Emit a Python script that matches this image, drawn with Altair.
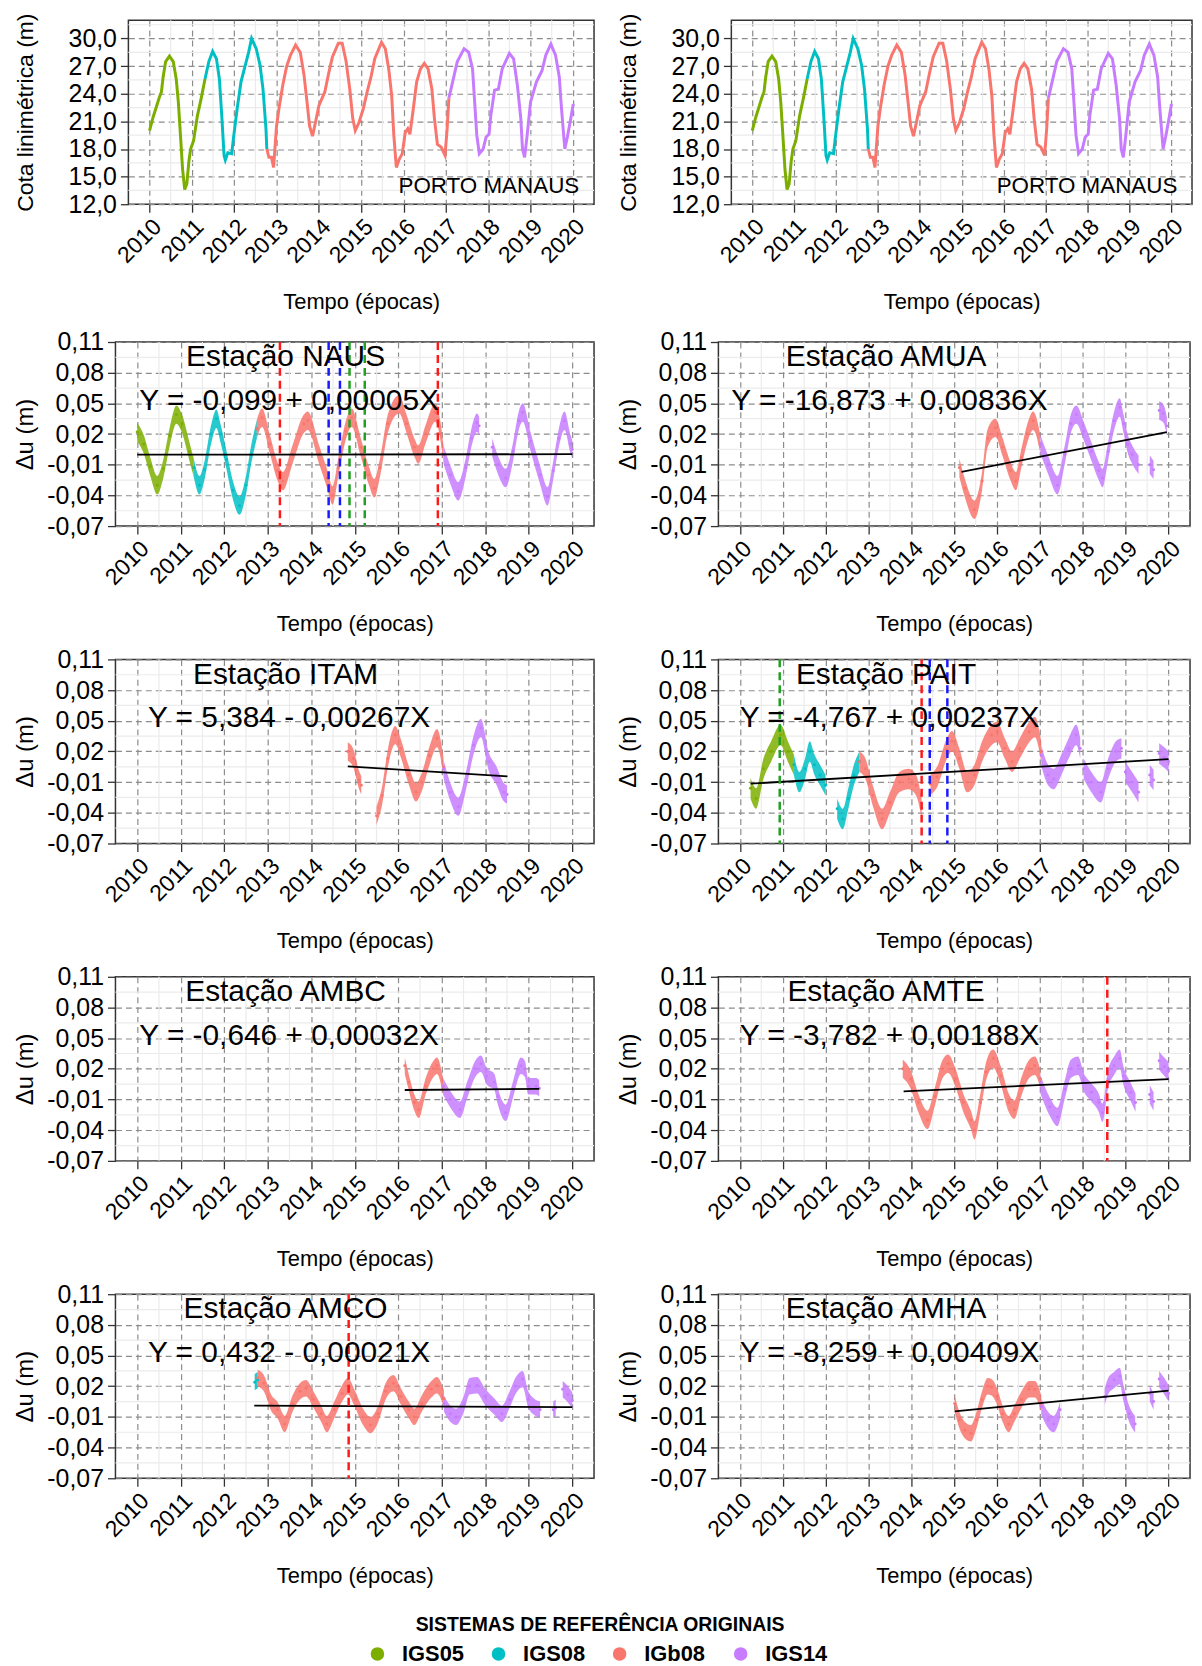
import altair as alt
import pandas as pd

FONT = "Liberation Sans"
SYSTEMS = ["IGS05", "IGS08", "IGb08", "IGS14"]
COLORS = ["#7CAE00", "#00BFC4", "#F8766D", "#C77CFF"]
SYS_COLOR = dict(zip(SYSTEMS, COLORS))
LEGEND_TITLE = "SISTEMAS DE REFERÊNCIA ORIGINAIS"

YEAR_TICKS = [2010, 2011, 2012, 2013, 2014, 2015, 2016, 2017, 2018, 2019, 2020]
YEAR_MINOR = [2010.5, 2011.5, 2012.5, 2013.5, 2014.5, 2015.5, 2016.5, 2017.5, 2018.5, 2019.5]
DU_TICKS = [-0.07, -0.04, -0.01, 0.02, 0.05, 0.08, 0.11]
DU_MINOR = [-0.055, -0.025, 0.005, 0.035, 0.065, 0.095]
LEVEL_TICKS = [12, 15, 18, 21, 24, 27, 30]
LEVEL_MINOR = [13.5, 16.5, 19.5, 22.5, 25.5, 28.5, 31.5]

# ---------------- water level (Porto Manaus) ----------------
LEVEL = [
    ("IGS05",
     [2010.0, 2010.08, 2010.23, 2010.28, 2010.32, 2010.38, 2010.47, 2010.56, 2010.63, 2010.68,
      2010.73, 2010.78, 2010.83, 2010.88, 2010.93, 2010.97, 2011.04, 2011.13, 2011.22, 2011.31],
     [20.0, 21.4, 23.6, 24.2, 25.8, 27.5, 28.1, 27.5, 25.6, 23.1,
      19.5, 15.8, 13.6, 14.2, 16.7, 18.0, 18.9, 21.6, 23.5, 25.6]),
    ("IGS08",
     [2011.31, 2011.4, 2011.49, 2011.58, 2011.65, 2011.71, 2011.76, 2011.79, 2011.85, 2011.94,
      2011.98, 2012.07, 2012.16, 2012.25, 2012.34, 2012.41, 2012.52, 2012.61, 2012.68, 2012.75, 2012.77],
     [25.6, 27.5, 28.6, 27.8, 25.6, 21.3, 17.3, 16.8, 17.6, 17.5,
      19.1, 22.4, 25.3, 26.9, 28.5, 30.0, 28.9, 27.1, 24.5, 20.2, 18.0]),
    ("IGb08",
     [2012.77, 2012.82, 2012.88, 2012.93, 2013.0, 2013.06, 2013.15, 2013.24, 2013.33, 2013.45,
      2013.56, 2013.65, 2013.72, 2013.78, 2013.85, 2013.92, 2014.0, 2014.14, 2014.23, 2014.32,
      2014.46, 2014.55, 2014.64, 2014.73, 2014.8, 2014.86, 2014.95, 2015.05, 2015.14, 2015.23,
      2015.32, 2015.48, 2015.57, 2015.65, 2015.72, 2015.77, 2015.83, 2015.9, 2015.97, 2016.04,
      2016.1, 2016.15, 2016.22, 2016.31, 2016.4, 2016.49, 2016.58, 2016.67, 2016.73, 2016.8,
      2016.89, 2016.98, 2017.03, 2017.07],
     [18.0, 17.1, 17.1, 16.0, 20.5, 22.5, 25.0, 27.0, 28.2, 29.3,
      28.5, 26.0, 23.1, 20.5, 19.4, 20.9, 22.7, 24.2, 26.2, 28.0,
      29.5, 29.5, 27.6, 24.5, 21.3, 20.0, 20.9, 22.4, 24.2, 25.8,
      27.8, 29.6, 28.9, 26.7, 23.8, 19.5, 16.0, 16.9, 17.5, 19.8,
      20.2, 19.6, 22.0, 25.3, 26.7, 27.3, 26.7, 24.5, 21.3, 18.5,
      18.2, 17.3, 20.2, 23.5]),
    ("IGS14",
     [2017.07, 2017.16, 2017.27, 2017.43, 2017.54, 2017.63, 2017.68, 2017.73, 2017.79, 2017.88,
      2017.95, 2018.02, 2018.06, 2018.15, 2018.24, 2018.33, 2018.5, 2018.6, 2018.69, 2018.77,
      2018.81, 2018.86, 2018.92, 2019.0, 2019.14, 2019.27, 2019.36, 2019.48, 2019.59, 2019.68,
      2019.72, 2019.77, 2019.81, 2019.87, 2019.95, 2020.01],
     [23.5, 25.3, 27.5, 28.9, 28.5, 26.7, 23.1, 19.5, 17.5, 18.0,
      19.3, 19.6, 21.6, 24.4, 24.5, 26.7, 28.4, 27.8, 24.9, 21.3,
      18.0, 17.1, 19.5, 23.1, 25.3, 26.5, 28.2, 29.4, 28.2, 25.8,
      23.1, 20.2, 18.0, 19.3, 21.3, 22.9]),
]

# ---------------- Delta-u stations (segment centres) ----------------
NAUS = [
    ("IGS05", [2010.0, 2010.15, 2010.3, 2010.46, 2010.6, 2010.75, 2010.9, 2011.03, 2011.2, 2011.3],
     [0.022, 0.01, -0.012, -0.030, -0.014, 0.018, 0.039, 0.03, 0.003, -0.013]),
    ("IGS08", [2011.3, 2011.43, 2011.55, 2011.7, 2011.82, 2011.92, 2012.05, 2012.2, 2012.35, 2012.5, 2012.62, 2012.75],
     [-0.013, -0.03, -0.015, 0.02, 0.035, 0.02, -0.005, -0.035, -0.05, -0.03, 0.0, 0.025]),
    ("IGb08", [2012.75, 2012.87, 2013.05, 2013.22, 2013.35, 2013.57, 2013.83, 2013.92, 2014.18, 2014.36,
               2014.49, 2014.62, 2014.79, 2014.93, 2015.14, 2015.32, 2015.45, 2015.58, 2015.76, 2016.02,
               2016.19, 2016.37, 2016.46, 2016.63, 2016.85, 2016.98, 2017.04],
     [0.025, 0.036, 0.01, -0.016, -0.026, 0.0, 0.03, 0.033, 0.0, -0.023,
      -0.04, -0.013, 0.023, 0.036, 0.007, -0.02, -0.033, -0.013, 0.03, 0.049,
      0.03, 0.007, 0.0, 0.02, 0.041, 0.02, 0.0]),
    ("IGS14", [2017.04, 2017.2, 2017.38, 2017.55, 2017.68, 2017.81, 2017.86],
     [0.0, -0.02, -0.036, -0.013, 0.016, 0.031, 0.028]),
    ("IGS14", [2018.16, 2018.29, 2018.47, 2018.64, 2018.77, 2018.86, 2019.04, 2019.26, 2019.43, 2019.56,
               2019.69, 2019.82, 2019.96, 2020.0],
     [0.007, -0.01, -0.023, 0.003, 0.033, 0.041, 0.013, -0.02, -0.041, -0.016,
      0.016, 0.033, 0.01, 0.005]),
]
NAUS_REG_T, NAUS_REG_U = [2010.0, 2020.0], [-0.0002, 0.0003]

AMUA = [
    ("IGb08", [2015.12, 2015.25, 2015.47, 2015.65, 2015.78, 2015.96, 2016.13, 2016.31, 2016.44, 2016.57, 2016.7, 2016.84, 2017.01],
     [-0.013, -0.033, -0.054, -0.026, 0.016, 0.026, 0.007, -0.016, -0.026, -0.003, 0.02, 0.033, 0.01]),
    ("IGS14", [2017.01, 2017.19, 2017.41, 2017.58, 2017.72, 2017.85, 2018.02, 2018.2, 2018.37, 2018.46,
               2018.59, 2018.73, 2018.86, 2018.95, 2019.05, 2019.15, 2019.3],
     [0.01, -0.01, -0.03, 0.0, 0.03, 0.039, 0.023, 0.003, -0.016, -0.023,
      0.003, 0.033, 0.046, 0.03, 0.01, 0.0, -0.01]),
    ("IGS14", [2019.56, 2019.65], [-0.01, -0.015]),
    ("IGS14", [2019.78, 2019.88, 2019.96], [0.043, 0.04, 0.028]),
]
AMUA_REG_T, AMUA_REG_U = [2015.17, 2019.96], [-0.017, 0.022]

ITAM = [
    ("IGb08", [2014.84, 2014.97, 2015.1, 2015.15], [0.02, 0.013, -0.008, -0.013]),
    ("IGb08", [2015.5, 2015.63, 2015.76, 2015.93, 2016.06, 2016.24, 2016.41, 2016.54, 2016.72, 2016.89, 2017.04],
     [-0.043, -0.023, 0.013, 0.036, 0.023, -0.003, -0.02, -0.01, 0.016, 0.033, 0.005]),
    ("IGS14", [2017.04, 2017.2, 2017.38, 2017.55, 2017.73, 2017.9, 2018.08, 2018.25, 2018.43, 2018.5],
     [0.003, -0.02, -0.034, -0.01, 0.026, 0.043, 0.01, -0.003, -0.02, -0.022]),
]
ITAM_REG_T, ITAM_REG_U = [2014.84, 2018.51], [0.0055, -0.0043]

PAIT = [
    ("IGS05", [2010.25, 2010.38, 2010.55, 2010.73, 2010.95, 2011.12, 2011.26],
     [-0.016, -0.026, 0.003, 0.02, 0.036, 0.02, 0.007]),
    ("IGS08", [2011.26, 2011.39, 2011.52, 2011.63, 2011.74, 2011.87, 2012.0],
     [0.007, -0.01, 0.003, 0.02, 0.007, -0.003, -0.013]),
    ("IGS08", [2012.27, 2012.4, 2012.53, 2012.66, 2012.79], [-0.036, -0.046, -0.026, -0.003, 0.01]),
    ("IGb08", [2012.79, 2012.93, 2013.1, 2013.32, 2013.5, 2013.72, 2013.94, 2014.11, 2014.24],
     [0.01, 0.003, -0.023, -0.046, -0.03, -0.01, -0.007, -0.013, -0.035]),
    ("IGb08", [2014.45, 2014.6, 2014.82, 2014.95, 2015.12, 2015.3, 2015.47, 2015.65, 2015.87, 2016.0,
               2016.18, 2016.35, 2016.53, 2016.75, 2016.88, 2017.03],
     [-0.012, -0.005, 0.022, 0.03, 0.013, -0.01, -0.003, 0.02, 0.036, 0.039,
      0.023, 0.01, 0.023, 0.039, 0.044, 0.02]),
    ("IGS14", [2017.03, 2017.19, 2017.32, 2017.5, 2017.67, 2017.85, 2017.94],
     [0.016, -0.003, -0.007, 0.007, 0.023, 0.036, 0.023]),
    ("IGS14", [2018.02, 2018.2, 2018.42, 2018.59, 2018.77, 2018.9], [0.003, -0.01, -0.02, 0.003, 0.02, 0.023]),
    ("IGS14", [2018.99, 2019.15, 2019.3], [0.0, -0.01, -0.02]),
    ("IGS14", [2019.56, 2019.65], [-0.003, -0.008]),
    ("IGS14", [2019.78, 2019.9, 2020.0], [0.018, 0.014, 0.01]),
]
PAIT_REG_T, PAIT_REG_U = [2010.25, 2020.0], [-0.0115, 0.0125]

AMBC = [
    ("IGb08", [2016.15, 2016.24, 2016.37, 2016.47, 2016.63, 2016.81, 2016.89, 2017.03],
     [0.023, 0.007, -0.013, -0.02, 0.003, 0.02, 0.023, 0.003]),
    ("IGS14", [2017.03, 2017.2, 2017.42, 2017.59, 2017.77, 2017.9, 2018.03, 2018.21, 2018.29, 2018.47,
               2018.64, 2018.82, 2018.91, 2018.99, 2019.17, 2019.24],
     [0.003, -0.01, -0.02, 0.0, 0.02, 0.025, 0.013, 0.007, -0.007, -0.023,
      0.0, 0.023, 0.02, 0.003, 0.003, 0.001]),
]
AMBC_REG_T, AMBC_REG_U = [2016.15, 2019.24], [-0.0007, 0.0004]

AMTE = [
    ("IGb08", [2013.8, 2013.98, 2014.16, 2014.38, 2014.55, 2014.73, 2014.86, 2015.04, 2015.21, 2015.39,
               2015.47, 2015.61, 2015.74, 2015.91, 2016.09, 2016.27, 2016.4, 2016.57, 2016.75, 2016.88, 2017.01],
     [0.02, 0.01, -0.013, -0.03, -0.007, 0.02, 0.025, 0.01, -0.013, -0.03,
      -0.04, -0.013, 0.017, 0.03, 0.013, -0.013, -0.02, 0.003, 0.02, 0.023, 0.01]),
    ("IGS14", [2017.01, 2017.23, 2017.41, 2017.58, 2017.72, 2017.89, 2018.02, 2018.2, 2018.37, 2018.46,
               2018.59, 2018.73, 2018.86, 2018.95, 2019.12, 2019.23],
     [0.005, -0.017, -0.027, 0.0, 0.02, 0.023, 0.007, -0.003, -0.013, -0.023,
      0.01, 0.023, 0.03, 0.013, -0.003, -0.013]),
    ("IGS14", [2019.56, 2019.65], [-0.005, -0.012]),
    ("IGS14", [2019.78, 2019.9, 2020.0], [0.028, 0.022, 0.018]),
]
AMTE_REG_T, AMTE_REG_U = [2013.82, 2020.0], [-0.002, 0.01]

AMCO = [
    ("IGS08", [2012.7, 2012.77], [0.024, 0.026]),
    ("IGb08", [2012.77, 2012.91, 2013.09, 2013.22, 2013.39, 2013.57, 2013.74, 2013.88, 2014.05, 2014.23,
               2014.36, 2014.53, 2014.71, 2014.84, 2015.01, 2015.19, 2015.36, 2015.54, 2015.71, 2015.89,
               2016.06, 2016.24, 2016.37, 2016.54, 2016.76, 2016.89, 2017.05],
     [0.028, 0.023, 0.003, -0.003, -0.017, 0.003, 0.015, 0.018, 0.007, -0.007,
      -0.017, -0.003, 0.013, 0.02, 0.007, -0.01, -0.018, -0.007, 0.015, 0.023,
      0.01, -0.003, -0.01, 0.003, 0.017, 0.021, 0.008]),
    ("IGS14", [2017.05, 2017.2, 2017.33, 2017.51, 2017.64, 2017.81, 2017.99, 2018.21, 2018.38, 2018.56,
               2018.69, 2018.86, 2018.99, 2019.12, 2019.26],
     [0.003, -0.007, -0.01, 0.003, 0.02, 0.021, 0.01, 0.0, -0.007, 0.007,
      0.02, 0.027, 0.007, 0.0, -0.003]),
    ("IGS14", [2019.56, 2019.62], [-0.003, -0.001]),
    ("IGS14", [2019.78, 2019.9, 2020.0], [0.017, 0.012, 0.006]),
]
AMCO_REG_T, AMCO_REG_U = [2012.69, 2020.0], [0.001, -0.0004]

AMHA = [
    ("IGb08", [2015.01, 2015.12, 2015.25, 2015.39, 2015.52, 2015.65, 2015.78, 2015.87, 2016.0, 2016.13,
               2016.27, 2016.4, 2016.57, 2016.75, 2016.88, 2017.03],
     [0.003, -0.013, -0.023, -0.026, -0.013, 0.007, 0.02, 0.019, 0.01, -0.007,
      -0.017, -0.007, 0.007, 0.017, 0.017, 0.003]),
    ("IGS14", [2017.03, 2017.19, 2017.32, 2017.47], [0.0, -0.013, -0.017, -0.003]),
    ("IGS14", [2018.51, 2018.59, 2018.73, 2018.86, 2018.95, 2019.08, 2019.22],
     [0.01, 0.02, 0.026, 0.03, 0.013, -0.007, -0.017]),
    ("IGS14", [2019.56, 2019.65], [0.013, 0.005]),
    ("IGS14", [2019.78, 2019.9, 2020.0], [0.027, 0.02, 0.013]),
]
AMHA_REG_T, AMHA_REG_U = [2015.01, 2020.0], [-0.0045, 0.0157]

# vertical dashed event lines
NAUS_VLINES = {"red": [2013.28, 2016.91], "blue": [2014.40, 2014.66], "green": [2014.88, 2015.23]}
PAIT_VLINES = {"green": [2010.93], "red": [2014.24], "blue": [2014.43, 2014.84]}
AMTE_VLINES = {"red": [2018.57]}
AMCO_VLINES = {"red": [2014.86]}
VLINE_COLORS = {"red": "#FF1A1A", "blue": "#1A1AFF", "green": "#22A022"}

# ---------------- encodings ----------------
X_SCALE = alt.Scale(domain=[2009.5, 2020.5], nice=False, zero=False)
DU_SCALE = alt.Scale(domain=[-0.07, 0.11], nice=False, zero=False)
LV_SCALE = alt.Scale(domain=[12, 32], nice=False, zero=False)
MINOR_C = "#EBEBEB"
NO_FRAME = alt.ViewBackground(stroke="transparent")

X_AXIS = alt.Axis(values=YEAR_TICKS, format="d", labelAngle=-45, labelAlign="right",
                  labelBaseline="top", labelFontSize=23, labelPadding=3, labelOverlap=False,
                  labelFlush=False, titleFontSize=22, titlePadding=24.5, tickSize=8, grid=True)
DU_AXIS = alt.Axis(values=DU_TICKS,
                   labelExpr="replace(replace(format(datum.value, '.2f'), '.', ','), '\u2212', '-')",
                   labelFontSize=25, labelPadding=4, titleFontSize=24, titlePadding=9,
                   tickSize=8, grid=True, labelOverlap=False, labelFlush=False)
LV_AXIS = alt.Axis(values=LEVEL_TICKS,
                   labelExpr="replace(format(datum.value, '.1f'), '.', ',')",
                   labelFontSize=25, labelPadding=4, titleFontSize=23, titlePadding=31,
                   tickSize=8, grid=True, labelOverlap=False, labelFlush=False)


def xe(field="t"):
    return alt.X(f"{field}:Q", scale=X_SCALE, axis=X_AXIS, title="Tempo (épocas)")


def ye(field="u"):
    return alt.Y(f"{field}:Q", scale=DU_SCALE, axis=DU_AXIS, title="Δu (m)")


def yl(field="h"):
    return alt.Y(f"{field}:Q", scale=LV_SCALE, axis=LV_AXIS, title="Cota linimétrica (m)")


def seg_df(segs, vname):
    rows = []
    for k, (sysname, ts, vs) in enumerate(segs):
        for t, v in zip(ts, vs):
            rows.append({"t": t, vname: v, "sys": sysname, "col": SYS_COLOR[sysname], "seg": k})
    return pd.DataFrame(rows)


def minor_layers(yfun, yminor, yname):
    mx = alt.Chart(pd.DataFrame({"t": YEAR_MINOR})).mark_rule(color=MINOR_C, strokeWidth=1.2).encode(x=xe())
    my = alt.Chart(pd.DataFrame({yname: yminor})).mark_rule(color=MINOR_C, strokeWidth=1.2).encode(y=yfun(yname))
    return [mx, my]


def level_panel(width):
    df = seg_df(LEVEL, "h")
    line = alt.Chart(df).mark_line(strokeWidth=3, clip=True).encode(
        x=xe(), y=yl("h"), color=alt.Color("col:N", scale=None), detail="seg:N")
    txt = alt.Chart(pd.DataFrame({"t": [2020.15], "h": [14.0], "label": ["PORTO MANAUS"]})).mark_text(
        fontSize=22.5, font=FONT, color="black", align="right", baseline="middle").encode(
        x=xe(), y=yl("h"), text="label:N")
    return alt.layer(*minor_layers(yl, LEVEL_MINOR, "h"), line, txt).properties(width=width, height=185)


def du_panel(station, eq, segs, spread, reg_t, reg_u, vlines, width):
    df = seg_df(segs, "u")
    df["lo"] = df["u"] - spread
    df["hi"] = df["u"] + spread
    band = alt.Chart(df).mark_area(opacity=0.85, interpolate="monotone", clip=True).encode(
        x=xe(), y=ye("lo"), y2=alt.Y2("hi:Q"),
        color=alt.Color("col:N", scale=None), detail="seg:N")
    dots = alt.Chart(df).mark_circle(size=9, opacity=1, clip=True).encode(
        x=xe(), y=ye("u"), color=alt.Color("col:N", scale=None))
    layers = minor_layers(ye, DU_MINOR, "u") + [band, dots]
    reg = alt.Chart(pd.DataFrame({"t": reg_t, "u": reg_u})).mark_line(
        color="black", strokeWidth=1.8, clip=True).encode(x=xe(), y=ye())
    layers.append(reg)
    for cname, xs in vlines.items():
        layers.append(alt.Chart(pd.DataFrame({"t": xs})).mark_rule(
            color=VLINE_COLORS[cname], strokeWidth=2.5, strokeDash=[8, 5]).encode(x=xe()))
    txt = alt.Chart(pd.DataFrame({"t": [2013.41, 2013.49], "u": [0.095, 0.0525],
                                  "label": [f"Estação {station}", eq]})).mark_text(
        fontSize=30, font=FONT, color="black", align="center", baseline="middle").encode(
        x=xe(), y=ye(), text="label:N")
    layers.append(txt)
    return alt.layer(*layers).properties(width=width, height=185)


def spacer():
    # invisible 1px anchor so every row starts at the same left edge
    return alt.Chart(pd.DataFrame({"t": [0]})).mark_point(size=0, opacity=0).properties(
        width=1, height=1, view=NO_FRAME)


WL, WR = 481, 474
panels = [
    level_panel(468),
    level_panel(463),
    du_panel("NAUS", "Y = -0,099 + 0,00005X", NAUS, 0.009, NAUS_REG_T, NAUS_REG_U, NAUS_VLINES, WL),
    du_panel("AMUA", "Y = -16,873 + 0,00836X", AMUA, 0.009, AMUA_REG_T, AMUA_REG_U, {}, WR),
    du_panel("ITAM", "Y = 5,384 - 0,00267X", ITAM, 0.009, ITAM_REG_T, ITAM_REG_U, {}, WL),
    du_panel("PAIT", "Y = -4,767 + 0,00237X", PAIT, 0.010, PAIT_REG_T, PAIT_REG_U, PAIT_VLINES, WR),
    du_panel("AMBC", "Y = -0,646 + 0,00032X", AMBC, 0.008, AMBC_REG_T, AMBC_REG_U, {}, WL),
    du_panel("AMTE", "Y = -3,782 + 0,00188X", AMTE, 0.009, AMTE_REG_T, AMTE_REG_U, AMTE_VLINES, WR),
    du_panel("AMCO", "Y = 0,432 - 0,00021X", AMCO, 0.008, AMCO_REG_T, AMCO_REG_U, AMCO_VLINES, WL),
    du_panel("AMHA", "Y = -8,259 + 0,00409X", AMHA, 0.008, AMHA_REG_T, AMHA_REG_U, {}, WR),
]

IND = dict(x="independent", y="independent")
rows = []
for i in range(0, 10, 2):
    pair = alt.hconcat(panels[i], panels[i + 1], spacing=20).resolve_scale(**IND)
    rows.append(alt.hconcat(spacer(), pair, spacing=0).resolve_scale(**IND))
lower = alt.vconcat(*rows[1:], spacing=11).resolve_scale(**IND)
grid = alt.vconcat(rows[0], lower, spacing=15.5).resolve_scale(**IND)

# ---------------- legend (reference systems) ----------------
leg_df = pd.DataFrame({"sys": SYSTEMS, "col": COLORS})
leg_x = alt.X("sys:N", sort=SYSTEMS, axis=None,
              scale=alt.Scale(type="point", domain=SYSTEMS, range=[368.3, 733.4], padding=0))
leg_dots = alt.Chart(leg_df).mark_circle(size=184, opacity=1).encode(
    x=leg_x, color=alt.Color("col:N", scale=None))
leg_text = alt.Chart(leg_df).mark_text(align="left", baseline="middle", dx=24.7, fontSize=22,
                                       fontWeight="bold", font=FONT, color="black").encode(
    x=leg_x, text="sys:N")
legend = alt.layer(leg_dots, leg_text).properties(
    width=1101, height=24, view=NO_FRAME,
    title=alt.TitleParams(LEGEND_TITLE, anchor="start", dx=406.7, fontSize=19.5, fontWeight="bold",
                          font=FONT, color="black", offset=6.5))

chart = alt.vconcat(grid, legend, spacing=26,
                    padding={"left": 2, "top": 0, "right": 0, "bottom": 0}).resolve_scale(
    **IND).configure(
    background="white", font=FONT
).configure_view(stroke="#333333", strokeWidth=1.5).configure_axis(
    labelFont=FONT, titleFont=FONT, labelColor="black", titleColor="black",
    titleFontWeight="normal", domain=False, tickColor="#333333", tickWidth=1.3,
    gridColor="#8c8c8c", gridDash=[6, 4], gridWidth=1.2
)

chart.save("out.html", embed_options={"renderer": "svg", "actions": False})
